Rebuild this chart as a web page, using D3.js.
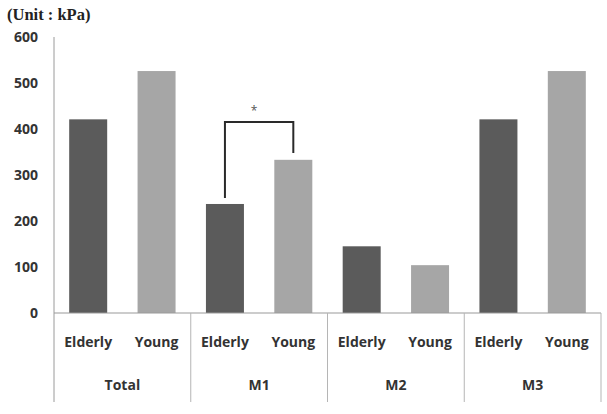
<!DOCTYPE html>
<html>
<head>
<meta charset="utf-8">
<script src="https://cdn.jsdelivr.net/npm/d3@7"></script>
<style>
  body { margin: 0; background: #fff; }
  text { font-family: "Open Sans", "Noto Sans", sans-serif; }
</style>
</head>
<body>
<div id="graph"></div>
<script>
// data
const groups = ["Total", "M1", "M2", "M3"];
const subgroups = ["Elderly", "Young"];
const elderly = [421, 237, 145, 421];
const young = [526, 333, 104, 526];
const yTicks = [0, 100, 200, 300, 400, 500, 600];

// significance bracket for M1 (values in kPa)
const sigGroup = "M1";
const sigTop = 415, sigLeftEnd = 250, sigRightEnd = 348;

const W = 607, H = 414;
const plot = {left: 54, right: 601, top: 37, zero: 313, bottom: 402};

const svg = d3.select("#graph").append("svg")
  .attr("width", W).attr("height", H);

const x0 = d3.scaleBand().domain(groups).range([plot.left, plot.right]).padding(0);
const x1 = d3.scaleBand().domain(subgroups).range([0, x0.bandwidth()]).padding(0);
const barW = 38;
const y = d3.scaleLinear().domain([0, 600]).range([plot.zero, plot.top]);
const color = d3.scaleOrdinal().domain(subgroups).range(["#5b5b5b", "#a6a6a6"]);

const data = groups.map((g, i) => ({group: g, Elderly: elderly[i], Young: young[i]}));

// unit label
svg.append("text")
  .attr("x", 7).attr("y", 20)
  .style("font-family", "'Liberation Serif', 'DejaVu Serif', serif")
  .style("font-weight", "bold").style("font-size", "16.5px")
  .attr("fill", "#222")
  .text("(Unit : kPa)");

// y tick labels
svg.selectAll(".ytick").data(yTicks).join("text")
  .attr("class", "ytick")
  .attr("x", 38).attr("y", d => y(d) + 5)
  .attr("text-anchor", "end")
  .style("font-size", "14px").style("font-weight", "bold")
  .attr("fill", "#333")
  .text(d => d);

// bars
const cx = (g, s) => x0(g) + x1(s) + x1.bandwidth() / 2;
data.forEach(d => {
  subgroups.forEach(s => {
    svg.append("rect")
      .attr("x", cx(d.group, s) - barW / 2)
      .attr("y", y(d[s]))
      .attr("width", barW)
      .attr("height", plot.zero - y(d[s]))
      .attr("fill", color(s));
  });
});

// axes lines
const axisCol = "#9a9a9a";
svg.append("line").attr("x1", plot.left).attr("x2", plot.left).attr("y1", plot.top).attr("y2", plot.bottom)
  .attr("stroke", axisCol).attr("stroke-width", 1);
svg.append("line").attr("x1", plot.left).attr("x2", plot.right).attr("y1", plot.zero).attr("y2", plot.zero)
  .attr("stroke", axisCol).attr("stroke-width", 1.2);
svg.selectAll(".div").data(groups.slice(1).concat(["end"])).join("line")
  .attr("x1", d => d === "end" ? plot.right : x0(d))
  .attr("x2", d => d === "end" ? plot.right : x0(d))
  .attr("y1", plot.zero).attr("y2", plot.bottom)
  .attr("stroke", "#b5b5b5").attr("stroke-width", 1);

// category labels
data.forEach(d => {
  subgroups.forEach(s => {
    svg.append("text")
      .attr("x", cx(d.group, s)).attr("y", 347)
      .attr("text-anchor", "middle")
      .style("font-size", "14px").style("font-weight", "bold")
      .attr("fill", "#333")
      .text(s);
  });
  svg.append("text")
    .attr("x", x0(d.group) + x0.bandwidth() / 2).attr("y", 390)
    .attr("text-anchor", "middle")
    .style("font-size", "14px").style("font-weight", "bold")
    .attr("fill", "#333")
    .text(d.group);
});

// significance bracket
const lx = cx(sigGroup, "Elderly"), rx = cx(sigGroup, "Young");
svg.append("path")
  .attr("d", `M${lx},${y(sigLeftEnd)}V${y(sigTop)}H${rx}V${y(sigRightEnd)}`)
  .attr("fill", "none").attr("stroke", "#2a2a2a").attr("stroke-width", 2);
svg.append("text")
  .attr("x", (lx + rx) / 2 - 5).attr("y", y(sigTop) - 7)
  .attr("text-anchor", "middle")
  .style("font-size", "12px").attr("fill", "#555")
  .text("*");
</script>
</body>
</html>
